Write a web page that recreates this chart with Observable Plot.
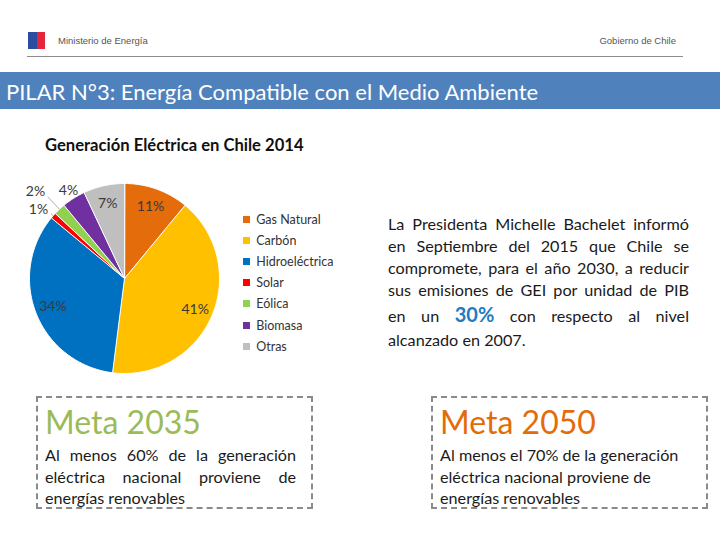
<!DOCTYPE html>
<html><head><meta charset="utf-8">
<script src="https://cdn.jsdelivr.net/npm/d3@7"></script>
<script src="https://cdn.jsdelivr.net/npm/@observablehq/plot@0.6"></script>
<style>
body{margin:0;width:720px;height:540px;position:relative;background:#fff;font-family:Lato,"Open Sans",sans-serif;overflow:hidden;color:#1a1a1a}
.abs{position:absolute}
.hdr{font-family:"Liberation Sans",Arial,sans-serif;font-size:9.5px;color:#555;top:35px}
.jl{display:block;text-align:justify;text-align-last:justify;white-space:nowrap}
.ll{display:block;white-space:nowrap}
.para{left:388px;top:213px;width:301px;font-size:16.2px;line-height:22px}
.box{top:396px;height:109px;width:266px;border:2px dashed #8a8a8a;padding:0 0 0 7px;box-sizing:content-box}
.meta{font-size:32px;line-height:34px;margin-top:7px;white-space:nowrap}
.body{font-size:16.2px;line-height:21.5px;margin-top:5px;width:251px}
.lg-swatches-columns .lg-swatch{height:21.1px;padding:0 !important;margin:0 !important;display:flex;align-items:center}
.lg-swatches{margin:0 !important;min-height:0 !important}
</style></head><body>
<div class="abs" style="left:28px;top:32px;width:9px;height:17px;background:#2a4da0"></div>
<div class="abs" style="left:37px;top:32px;width:8px;height:17px;background:#e3263b"></div>
<div class="abs hdr" style="left:58px">Ministerio de Energía</div>
<div class="abs hdr" style="right:44px">Gobierno de Chile</div>
<div class="abs" style="left:27px;top:56px;width:656px;height:1px;background:#8c8c8c"></div>
<div class="abs" style="left:0;top:72px;width:714px;height:37px;background:#4F81BD;color:#fff;font-size:22px;line-height:40px;padding-left:6px;white-space:nowrap">PILAR N°3: Energía Compatible con el Medio Ambiente</div>
<div class="abs" style="left:45px;top:135px;font-weight:bold;font-size:16.6px;color:#111;white-space:nowrap">Generación Eléctrica en Chile 2014</div>
<div id="pie" class="abs" style="left:4px;top:158px"></div>
<div id="legend" class="abs" style="left:243px;top:209px"></div>
<div class="abs para">
<span class="jl">La Presidenta Michelle Bachelet informó</span>
<span class="jl">en Septiembre del 2015 que Chile se</span>
<span class="jl">compromete, para el año 2030, a reducir</span>
<span class="jl">sus emisiones de GEI por unidad de PIB</span>
<span class="jl" style="line-height:27px">en un <b style="font-size:20px;color:#1f7cc2">30%</b> con respecto al nivel</span>
<span class="ll">alcanzado en 2007.</span>
</div>
<div class="abs box" style="left:36px">
<div class="meta" style="color:#9BBB59">Meta 2035</div>
<div class="body">
<span class="jl">Al menos 60% de la generación</span>
<span class="jl">eléctrica nacional proviene de</span>
<span class="ll">energías renovables</span>
</div></div>
<div class="abs box" style="left:431px">
<div class="meta" style="color:#E36C09">Meta 2050</div>
<div class="body">
<span class="ll">Al menos el 70% de la generación</span>
<span class="ll">eléctrica nacional proviene de</span>
<span class="ll">energías renovables</span>
</div></div>
<script>
const categories = ["Gas Natural","Carbón","Hidroeléctrica","Solar","Eólica","Biomasa","Otras"];
const shares = [11,41,34,1,2,4,7];
const sliceColors = ["#E46C0A","#FFC000","#0070C0","#FF0000","#92D050","#7030A0","#BFBFBF"];
const labelTexts = shares.map(v => v + "%");

const arcs = d3.pie().sort(null).value(d => d)(shares);
const pt = (a, r) => ({x: r * Math.sin(a), y: r * Math.cos(a)});

// wedge outlines computed from the pie angles
const wedgeRows = [];
arcs.forEach((a, i) => {
  const cat = categories[i];
  wedgeRows.push({cat, x: 0, y: 0});
  const n = Math.max(2, Math.ceil((a.endAngle - a.startAngle) / (Math.PI / 180)));
  for (let k = 0; k <= n; k++) {
    const p = pt(a.startAngle + (a.endAngle - a.startAngle) * k / n, 1);
    wedgeRows.push({cat, ...p});
  }
});

// labels: inside for big slices, outside (staggered) for small ones
const labels = [], leaders = [];
let outsideCount = 0;
arcs.forEach((a, i) => {
  const mid = (a.startAngle + a.endAngle) / 2;
  if (shares[i] >= 5) {
    labels.push({...pt(mid, 0.81), text: labelTexts[i], anchor: "middle"});
  } else {
    const r = 1.1 + (outsideCount % 2 === 1 ? 0.15 : 0);
    outsideCount++;
    const s = Math.sin(mid);
    const anchor = Math.abs(s) < 0.6 ? "middle" : (s < 0 ? "end" : "start");
    labels.push({...pt(mid, r), text: labelTexts[i], anchor});
    if (anchor !== "middle") {
      const p1 = pt(mid, 1.0), p2 = pt(mid, r - 0.07);
      leaders.push({x1: p1.x, y1: p1.y, x2: p2.x, y2: p2.y});
    }
  }
});

const textMark = anchor => Plot.text(labels.filter(d => d.anchor === anchor), {
  x: "x", y: "y", text: "text", textAnchor: anchor, fontSize: 14,
  fontFamily: "Lato", fill: "#3a3a3a", dx: anchor === "end" ? 2 : 0
});

const pie = Plot.plot({
  width: 240, height: 240, margin: 0,
  x: {domain: [-1, 1], range: [25, 215], axis: null},
  y: {domain: [-1, 1], range: [215, 25], axis: null},
  color: {domain: categories, range: sliceColors},
  style: {background: "transparent", overflow: "visible"},
  marks: [
    Plot.line(wedgeRows, {x: "x", y: "y", z: "cat", fill: "cat", stroke: "white", strokeWidth: 1, curve: "linear-closed"}),
    Plot.link(leaders, {x1: "x1", y1: "y1", x2: "x2", y2: "y2", stroke: "#8c8c8c", strokeWidth: 0.7}),
    textMark("middle"), textMark("end"), textMark("start")
  ]
});
document.getElementById("pie").appendChild(pie);

const legend = Plot.legend({
  color: {domain: categories, range: sliceColors},
  legend: "swatches", columns: 1, swatchSize: 7, className: "lg",
  style: {fontSize: "12.5px", fontFamily: "Lato", color: "#333", margin: "0"}
});
document.getElementById("legend").appendChild(legend);
</script>
</body></html>
